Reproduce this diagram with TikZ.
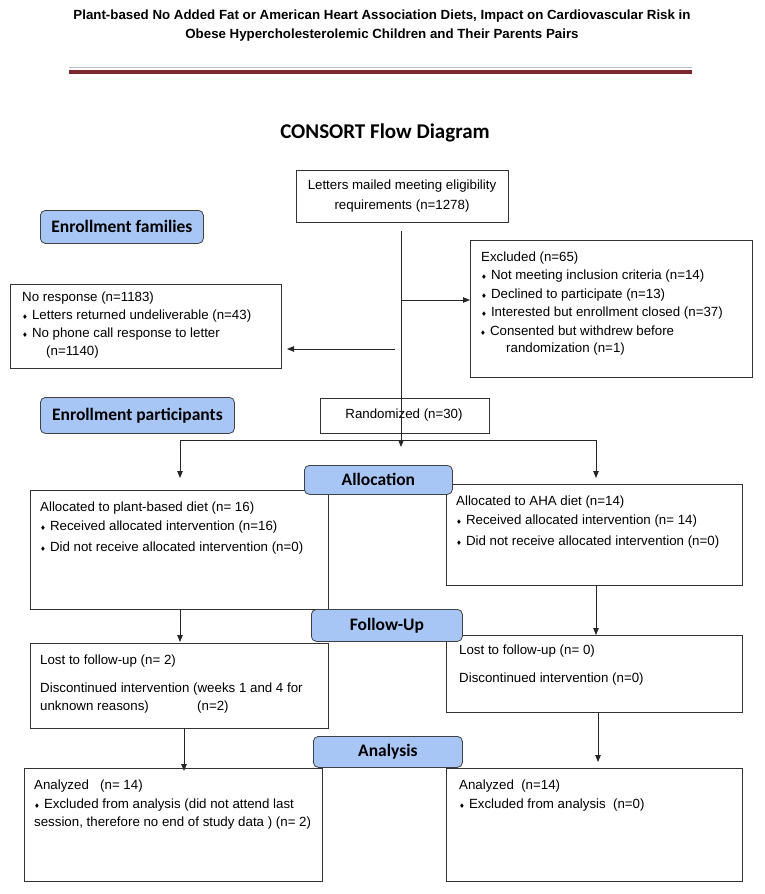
\documentclass[tikz,border=0pt]{standalone}
\usepackage{fontspec}
\setmainfont{Liberation Sans}
\newfontfamily\carlito{Carlito}
\newfontfamily\dejavu{DejaVu Sans}
\usetikzlibrary{arrows.meta}
\definecolor{hdrblue}{RGB}{168,198,245}
\definecolor{maroon}{RGB}{122,40,44}
\newcommand\bul{{\dejavu\fontsize{6.5}{6.5}\selectfont ♦}\hspace{4pt}}
\tikzset{
  box/.style={draw=black!80, line width=0.8pt, anchor=north west, inner sep=0pt},
  phase/.style={draw=black!75, fill=hdrblue, rounded corners=5pt, line width=0.8pt, anchor=north west, inner sep=0pt},
  ptxt/.style={inner sep=0pt, font=\carlito\bfseries\fontsize{17.5}{18}\selectfont},
  txt/.style={anchor=west, inner sep=0pt, font=\fontsize{13.3}{15}\selectfont},
  ctxt/.style={anchor=center, inner sep=0pt, font=\fontsize{13.3}{15}\selectfont},
  arr/.style={line width=0.8pt, draw=black!85, -{Triangle[length=7pt,width=5.5pt]}},
  ln/.style={line width=0.8pt, draw=black!85},
}
\begin{document}
\begin{tikzpicture}[x=1pt,y=-1pt]
\useasboundingbox (0,0) rectangle (764,894);
% header
\node[ctxt, font=\bfseries\fontsize{13.3}{15}\selectfont] (t1) at (382,16) {Plant-based No Added Fat or American Heart Association Diets, Impact on Cardiovascular Risk in};
\node[ctxt, font=\bfseries\fontsize{13.3}{15}\selectfont] (t2) at (382,35) {Obese Hypercholesterolemic Children and Their Parents Pairs};
\draw[line width=1.2pt, draw=black!25] (69,67.5) -- (692,67.5);
\draw[line width=4pt, draw=maroon] (69,71.5) -- (692,71.5);
\node[ctxt, font=\carlito\bfseries\fontsize{21}{23}\selectfont] (title) at (385,133) {CONSORT Flow Diagram};

% boxes
\node[box, minimum width=212pt, minimum height=52pt] (letters) at (296,170) {};
\node[ctxt] (l1) at (402,186) {Letters mailed meeting eligibility};
\node[ctxt] (l2) at (402,206) {requirements (n=1278)};

\node[phase, minimum width=163pt, minimum height=33pt] (enf) at (40,210) {};
\node[ptxt] (enft) at (enf.center) {Enrollment families};

\node[box, minimum width=282pt, minimum height=137pt] (excl) at (470,240) {};
\node[txt] (e0) at (481,258) {Excluded (n=65)};
\node[txt] (e1) at (481,276) {\bul Not meeting inclusion criteria (n=14)};
\node[txt] (e2) at (481,295) {\bul Declined to participate (n=13)};
\node[txt] (e3) at (481,313) {\bul Interested but enrollment closed (n=37)};
\node[txt] (e4) at (480,331) {\bul Consented but withdrew before};
\node[txt] (e5) at (506,349) {randomization (n=1)};

\node[box, minimum width=271pt, minimum height=84pt] (noresp) at (10,284) {};
\node[txt] (n0) at (22,298) {No response (n=1183)};
\node[txt] (n1) at (22,316) {\bul Letters returned undeliverable (n=43)};
\node[txt] (n2) at (22,334) {\bul No phone call response to letter};
\node[txt] (n3) at (46,352) {(n=1140)};

\node[phase, minimum width=194pt, minimum height=36pt] (enp) at (40,397) {};
\node[ptxt] (enpt) at (enp.center) {Enrollment participants};

\node[box, minimum width=169pt, minimum height=35pt] (rand) at (320,398) {};
\node[ctxt] (rt) at (404,415) {Randomized (n=30)};

% main flow lines
\coordinate (m0) at (401,231);
\coordinate (m1) at (401,447);
\coordinate (mex) at (401,300);
\coordinate (nr0) at (395,349);
\coordinate (nr1) at (287,349);
\draw[arr] (m0) -- (m1);
\draw[arr] (mex) -- (excl.west |- mex);
\draw[arr] (nr0) -- (nr1);

\coordinate (bl) at (180,440);
\coordinate (br) at (596,440);
\coordinate (bl2) at (180,478);
\coordinate (br2) at (596,478);
\draw[ln] (bl) -- (br);
\draw[arr] (bl) -- (bl2);
\draw[arr] (br) -- (br2);

% allocation
\node[box, minimum width=298pt, minimum height=119pt] (la) at (30,490) {};
\node[txt] (la0) at (40,508) {Allocated to plant-based diet (n= 16)};
\node[txt] (la1) at (40,527) {\bul Received allocated intervention (n=16)};
\node[txt] (la2) at (40,548) {\bul Did not receive allocated intervention (n=0)};

\node[box, minimum width=296pt, minimum height=101pt] (ra) at (446,484) {};
\node[txt] (ra0) at (456,502) {Allocated to AHA diet (n=14)};
\node[txt] (ra1) at (456,521) {\bul Received allocated intervention (n= 14)};
\node[txt] (ra2) at (456,542) {\bul Did not receive allocated intervention (n=0)};

\node[phase, minimum width=148pt, minimum height=29pt] (alloc) at (304,465) {};
\node[ptxt] (alloct) at (alloc.center) {Allocation};

% follow-up
\coordinate (fl0) at (180,609);
\coordinate (fl1) at (180,642);
\coordinate (fr0) at (596,585);
\coordinate (fr1) at (596,635);
\draw[arr] (fl0) -- (fl1);
\draw[arr] (fr0) -- (fr1);

\node[box, minimum width=298pt, minimum height=85pt] (lf) at (30,643) {};
\node[txt] (lf0) at (40,661) {Lost to follow-up (n= 2)};
\node[txt] (lf1) at (40,689) {Discontinued intervention (weeks 1 and 4 for};
\node[txt] (lf2) at (40,707) {unknown reasons)};
\node[txt] (lf3) at (197,707) {(n=2)};

\node[box, minimum width=296pt, minimum height=77pt] (rf) at (446,635) {};
\node[txt] (rf0) at (459,651) {Lost to follow-up (n= 0)};
\node[txt] (rf1) at (459,679) {Discontinued intervention (n=0)};

\node[phase, minimum width=151pt, minimum height=32pt] (fu) at (311,609) {};
\node[ptxt] (fut) at (fu.center) {Follow-Up};

% analysis
\coordinate (al0) at (184,728);
\coordinate (al1) at (184,771);
\coordinate (ar0) at (598,712);
\coordinate (ar1) at (598,762);
\draw[arr] (al0) -- (al1);
\draw[arr] (ar0) -- (ar1);

\node[phase, minimum width=149pt, minimum height=31pt] (an) at (313,736) {};
\node[ptxt] (ant) at (an.center) {Analysis};

\node[box, minimum width=298pt, minimum height=113pt] (lan) at (24,768) {};
\node[txt] (lan0) at (34,786) {Analyzed};
\node[txt] (lan0b) at (100,786) {(n= 14)};
\node[txt] (lan1) at (34,805) {\bul Excluded from analysis (did not attend last};
\node[txt] (lan2) at (34,823) {session, therefore no end of study data ) (n= 2)};

\node[box, minimum width=296pt, minimum height=113pt] (ran) at (446,768) {};
\node[txt] (ran0) at (459,786) {Analyzed\ \ (n=14)};
\node[txt] (ran1) at (459,805) {\bul Excluded from analysis\ \ (n=0)};
\end{tikzpicture}
\end{document}
